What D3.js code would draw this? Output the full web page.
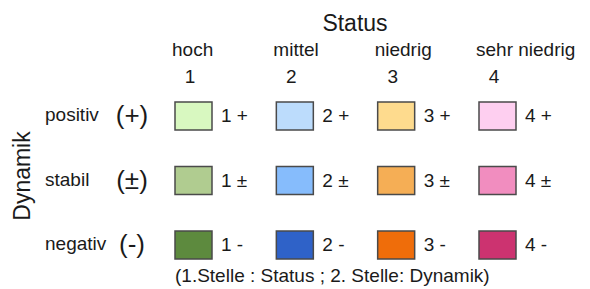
<!DOCTYPE html>
<html lang="de">
  <head>
    <meta charset="UTF-8" />
    <title>Status / Dynamik</title>
    <script src="https://d3js.org/d3.v7.min.js"></script>
    <style>
      body {
        margin: 0;
        background: #fff;
      }
      text {
        font-family: "Liberation Sans", Arial, sans-serif;
        fill: #1a1a1a;
      }
    </style>
  </head>
  <body>
    <svg id="chart" width="590" height="289"></svg>

    <script>
      // Status columns
      var statusNames = ["hoch", "mittel", "niedrig", "sehr niedrig"];
      var statusCodes = ["1", "2", "3", "4"];

      // Dynamik rows
      var dynamikNames = ["positiv", "stabil", "negativ"];
      var dynamikSymbols = ["(+)", "(\u00b1)", "(-)"];
      var dynamikSuffix = ["+", "\u00b1", "-"];

      // fill colour per row (dynamik) and column (status)
      var colorsPositiv = ["#d8f8c0", "#bcdcfc", "#fedb8e", "#fecff0"];
      var colorsStabil = ["#b0cc90", "#86bcfc", "#f5ae55", "#f18dbf"];
      var colorsNegativ = ["#5d8a3e", "#2f62c8", "#ef6d0a", "#cc3370"];
      var colorRows = [colorsPositiv, colorsStabil, colorsNegativ];

      var footer = "(1.Stelle : Status ; 2. Stelle: Dynamik)";

      var svg = d3.select("#chart");

      var x = d3
        .scalePoint()
        .domain(statusCodes)
        .range([175, 479]);

      var y = d3
        .scalePoint()
        .domain(dynamikNames)
        .range([116, 245]);

      var boxW = 37,
        boxH = 28;

      // cells
      var cells = [];
      dynamikNames.forEach(function (dn, i) {
        statusCodes.forEach(function (sc, j) {
          cells.push({
            status: sc,
            dynamik: dn,
            color: colorRows[i][j],
            label: sc + " " + dynamikSuffix[i],
          });
        });
      });

      var cell = svg
        .selectAll(".cell")
        .data(cells)
        .enter()
        .append("g")
        .attr("class", "cell")
        .attr("transform", function (d) {
          return "translate(" + x(d.status) + "," + y(d.dynamik) + ")";
        });

      cell
        .append("rect")
        .attr("x", 0)
        .attr("y", -boxH / 2)
        .attr("width", boxW)
        .attr("height", boxH)
        .attr("fill", function (d) {
          return d.color;
        })
        .attr("stroke", "#4a4a4a")
        .attr("stroke-width", 1.5);

      cell
        .append("text")
        .attr("x", boxW + 9)
        .attr("y", 6)
        .style("font-size", "19px")
        .text(function (d) {
          return d.label;
        });

      // header
      svg
        .append("text")
        .attr("x", 355)
        .attr("y", 31)
        .attr("text-anchor", "middle")
        .style("font-size", "23px")
        .text("Status");

      svg
        .selectAll(".status-name")
        .data(statusNames)
        .enter()
        .append("text")
        .attr("class", "status-name")
        .attr("x", function (d, i) {
          return x(statusCodes[i]) - 3;
        })
        .attr("y", 56)
        .style("font-size", "19px")
        .text(function (d) {
          return d;
        });

      svg
        .selectAll(".status-code")
        .data(statusCodes)
        .enter()
        .append("text")
        .attr("class", "status-code")
        .attr("x", function (d) {
          return x(d) + 15;
        })
        .attr("y", 83)
        .attr("text-anchor", "middle")
        .style("font-size", "19px")
        .text(function (d) {
          return d;
        });

      // row labels
      svg
        .selectAll(".dyn-name")
        .data(dynamikNames)
        .enter()
        .append("text")
        .attr("class", "dyn-name")
        .attr("x", 45)
        .attr("y", function (d) {
          return y(d) + 5;
        })
        .style("font-size", "19px")
        .text(function (d) {
          return d;
        });

      svg
        .selectAll(".dyn-symbol")
        .data(dynamikSymbols)
        .enter()
        .append("text")
        .attr("class", "dyn-symbol")
        .attr("x", 132)
        .attr("y", function (d, i) {
          return y(dynamikNames[i]) + 8;
        })
        .attr("text-anchor", "middle")
        .style("font-size", "26px")
        .text(function (d) {
          return d;
        });

      svg
        .append("text")
        .attr("transform", "translate(30,176) rotate(-90)")
        .attr("text-anchor", "middle")
        .style("font-size", "23px")
        .text("Dynamik");

      svg
        .append("text")
        .attr("x", 175)
        .attr("y", 282)
        .style("font-size", "19px")
        .text(footer);
    </script>
  </body>
</html>
